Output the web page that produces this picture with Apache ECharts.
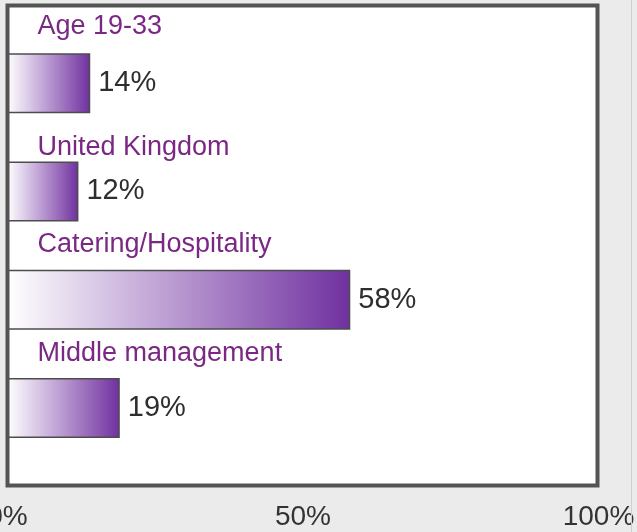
<!DOCTYPE html>
<html>
<head>
<meta charset="utf-8">
<script src="https://cdn.jsdelivr.net/npm/echarts@6/dist/echarts.min.js"></script>
<style>
  html, body { margin: 0; padding: 0; background: #ebebeb; }
  #chart { width: 637px; height: 532px; }
</style>
</head>
<body>
<div id="chart"></div>
<script>
// Survey profile: share of respondents in each group
const categories = ['Age 19-33', 'United Kingdom', 'Catering/Hospitality', 'Middle management'];
const shares = [14, 12, 58, 19];
const axisTicks = [0, 50, 100];

const FONT = 'Arial, "Liberation Sans", sans-serif';
const chart = echarts.init(document.getElementById('chart'));

const purpleFade = new echarts.graphic.LinearGradient(0, 0, 1, 0, [
  { offset: 0, color: '#ffffff' },
  { offset: 1, color: '#7030a0' }
]);

// how far each group caption sits above the middle of its row (px)
const captionLift = [43, 30, 42, 41];
const captionRich = {};
captionLift.forEach((lift, i) => {
  captionRich['c' + i] = {
    padding: [0, 0, lift, 0],
    color: '#7a2884',
    fontFamily: FONT,
    fontSize: 27
  };
});

chart.setOption({
  backgroundColor: '#ebebeb',
  animation: false,
  graphic: [
    // white plotting panel
    { type: 'rect', z: -5, shape: { x: 7.5, y: 5.5, width: 590, height: 480 },
      style: { fill: '#ffffff' } },
    // panel frame drawn over the bars
    { type: 'rect', z: 100, shape: { x: 7.5, y: 5.5, width: 590, height: 480 },
      style: { fill: null, stroke: '#545454', lineWidth: 4 } },
    { type: 'line', z: 100, shape: { x1: 631.5, y1: 0, x2: 631.5, y2: 532 },
      style: { stroke: '#cfcfcf', lineWidth: 1 } }
  ],
  grid: {
    left: 7.5, right: 38.5, top: 29, bottom: 70,
    containLabel: false,
    outerBoundsMode: 'none'
  },
  xAxis: {
    type: 'value',
    min: axisTicks[0],
    max: axisTicks[axisTicks.length - 1],
    interval: axisTicks[1] - axisTicks[0],
    axisLine: { show: false },
    axisTick: { show: false },
    splitLine: { show: false },
    axisLabel: {
      formatter: '{value}%',
      color: '#333333',
      fontFamily: FONT,
      fontSize: 28,
      margin: 41,
      hideOverlap: false
    }
  },
  yAxis: {
    type: 'category',
    inverse: true,
    data: categories,
    axisLine: { show: false },
    axisTick: { show: false },
    splitLine: { show: false },
    axisLabel: {
      inside: true,
      margin: 30,
      align: 'left',
      verticalAlign: 'bottom',
      color: '#7a2884',
      fontFamily: FONT,
      fontSize: 27,
      formatter: (name, idx) => '{c' + idx + '|' + name + '}',
      rich: captionRich
    }
  },
  series: [{
    type: 'bar',
    data: shares,
    barWidth: 60,
    itemStyle: {
      color: purpleFade,
      borderColor: '#4d4d4d',
      borderWidth: 1.5
    },
    label: {
      show: true,
      position: 'right',
      distance: 8,
      formatter: '{c}%',
      color: '#2e2e2e',
      fontFamily: FONT,
      fontSize: 29
    }
  }]
});
</script>
</body>
</html>
